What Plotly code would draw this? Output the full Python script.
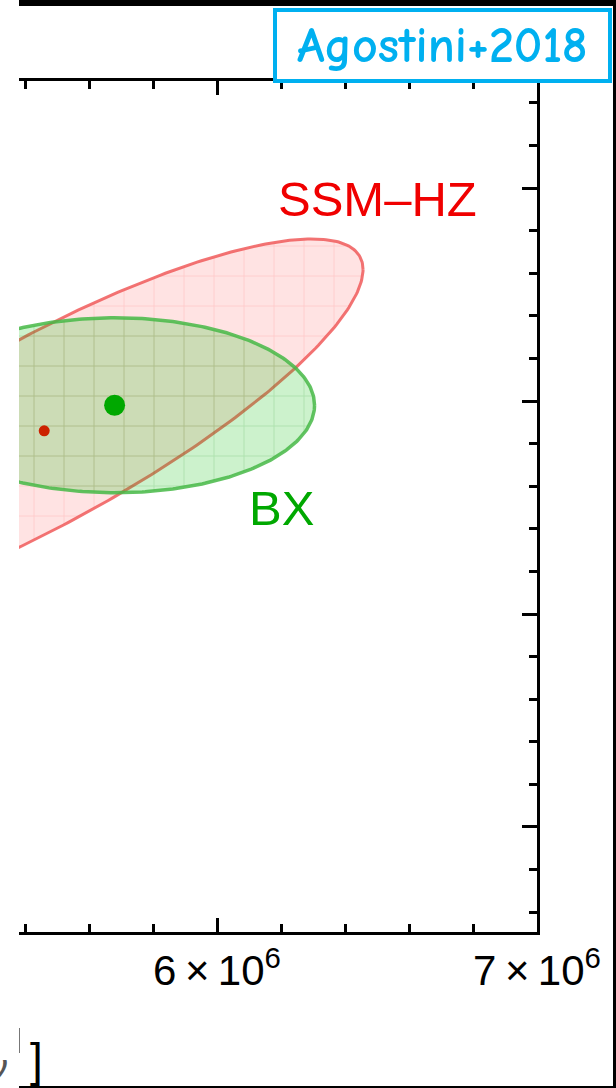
import numpy as np
import plotly.graph_objects as go

# Flux values (cm^-2 s^-1): x = 8B flux, y = 7Be flux
x_range = [5.38125e6, 7.0e6]
y_range = [3.7535e9, 5.7512e9]

x_major = [6e6, 7e6]
x_labels = ["6\u2009\u00d7\u200910<sup>6</sup>", "7\u2009\u00d7\u200910<sup>6</sup>"]

# Standard solar model (high metallicity) prediction
ssm_center = [5.46e6, 4.93e9]
ssm_sigma = [0.657e6, 0.297e9]
ssm_rho = 0.84

# Borexino measurement
bx_center = [5.68e6, 4.99e9]
bx_sigma = [0.412e6, 0.1354e9]
bx_rho = 0.0

# 68% CL for two parameters: delta chi^2 = 2.30
k68 = np.sqrt(2.30)

# Plot area in pixels (figure 616 x 1088)
W, H = 616, 1088
L, R, T, B = 19, 537, 81, 932


def px_x(px):
    return (px - L) / (R - L)


def px_y(py):
    return (B - py) / (B - T)


def ellipse(center, sigma, rho, k, n=400):
    t = np.linspace(0, 2 * np.pi, n)
    x = center[0] + k * sigma[0] * np.cos(t)
    y = center[1] + k * sigma[1] * (rho * np.cos(t) + np.sqrt(1 - rho ** 2) * np.sin(t))
    return x, y


fig = go.Figure()

ssm_fill = "rgba(255,40,40,0.13)"
ex, ey = ellipse(ssm_center, ssm_sigma, ssm_rho, k68)
fig.add_trace(go.Scatter(
    x=ex, y=ey, mode="lines", fill="toself",
    fillcolor=ssm_fill,
    fillpattern=dict(shape="+", size=30, solidity=0.05,
                     fgcolor="rgba(255,70,70,0.35)", bgcolor=ssm_fill),
    line=dict(color="rgba(240,90,90,0.85)", width=3),
    hoverinfo="skip"))

bx_fill = "rgba(0,190,0,0.2)"
ex, ey = ellipse(bx_center, bx_sigma, bx_rho, k68)
fig.add_trace(go.Scatter(
    x=ex, y=ey, mode="lines", fill="toself",
    fillcolor=bx_fill,
    fillpattern=dict(shape="+", size=30, solidity=0.05,
                     fgcolor="rgba(0,130,0,0.35)", bgcolor=bx_fill),
    line=dict(color="rgba(70,185,70,0.85)", width=3.5),
    hoverinfo="skip"))

fig.add_trace(go.Scatter(
    x=[ssm_center[0]], y=[ssm_center[1]], mode="markers",
    marker=dict(size=11, color="#cc2200"), hoverinfo="skip"))
fig.add_trace(go.Scatter(
    x=[bx_center[0]], y=[bx_center[1]], mode="markers",
    marker=dict(size=21, color="#00a800"), hoverinfo="skip"))

fig.add_annotation(x=6.5e6, y=5.475e9, text="SSM\u2013HZ", showarrow=False,
                   font=dict(size=49, color="#f00000", family="Liberation Sans"))
fig.add_annotation(x=6.2e6, y=4.75e9, text="BX", showarrow=False,
                   font=dict(size=49, color="#00a800", family="Liberation Sans"))

# label box in the top right corner
fig.add_shape(type="rect", xref="paper", yref="paper",
              x0=px_x(275), x1=px_x(610), y0=px_y(81), y1=px_y(10),
              line=dict(color="#00b0f0", width=4), fillcolor="white", layer="above")
fig.add_annotation(xref="paper", yref="paper", x=px_x(442), y=px_y(46),
                   xanchor="center", yanchor="middle",
                   text="<b>Agostini+2018</b>", showarrow=False,
                   font=dict(size=50, color="#00b0f0", family="Comic Sans MS, Comic Neue, Lato"))

# outer frame pieces
frame = dict(type="rect", xref="paper", yref="paper", fillcolor="black",
             line=dict(width=0), layer="above")
fig.add_shape(**frame, x0=px_x(19), x1=px_x(616), y0=px_y(6), y1=px_y(0))
fig.add_shape(**frame, x0=px_x(613), x1=px_x(616), y0=px_y(1088), y1=px_y(0))
fig.add_shape(**frame, x0=px_x(19), x1=px_x(616), y0=px_y(1088), y1=px_y(1086))
fig.add_shape(type="line", xref="paper", yref="paper",
              x0=px_x(19.5), x1=px_x(19.5), y0=px_y(1053), y1=px_y(1028),
              line=dict(color="#777", width=1))

# tail of the x-axis unit label
fig.add_annotation(xref="paper", yref="paper", x=px_x(36), y=px_y(1060),
                   xanchor="center", yanchor="middle",
                   text="]", showarrow=False,
                   font=dict(size=46, color="black", family="Liberation Sans"))
fig.add_annotation(xref="paper", yref="paper", x=px_x(9), y=px_y(1068),
                   xanchor="right", yanchor="middle",
                   text="<i>\u03bd</i>", showarrow=False,
                   font=dict(size=40, color="#555", family="Liberation Sans"))

fig.update_layout(
    width=W, height=H,
    margin=dict(l=L, r=W - R, t=T, b=H - B),
    plot_bgcolor="white", paper_bgcolor="white",
    showlegend=False,
    font=dict(family="Liberation Sans", color="black"),
    xaxis=dict(
        range=x_range, showgrid=False, zeroline=False,
        showline=True, linecolor="black", linewidth=3, mirror="ticks",
        ticks="inside", ticklen=14, tickwidth=3, tickcolor="black",
        tickmode="array", tickvals=x_major, ticktext=x_labels,
        tickfont=dict(size=42, family="Liberation Sans", color="black"),
        minor=dict(tickmode="linear", tick0=0, dtick=2e5, ticks="inside",
                   ticklen=8, tickwidth=3, tickcolor="black", showgrid=False),
    ),
    yaxis=dict(
        range=y_range, side="right", showgrid=False, zeroline=False,
        showline=True, linecolor="black", linewidth=3,
        ticks="inside", ticklen=15, tickwidth=3, tickcolor="black",
        tick0=0, dtick=0.5e9, showticklabels=False,
        minor=dict(tickmode="linear", tick0=0, dtick=1e8, ticks="inside",
                   ticklen=8, tickwidth=3, tickcolor="black", showgrid=False),
    ),
)

fig.write_html("out.html")
